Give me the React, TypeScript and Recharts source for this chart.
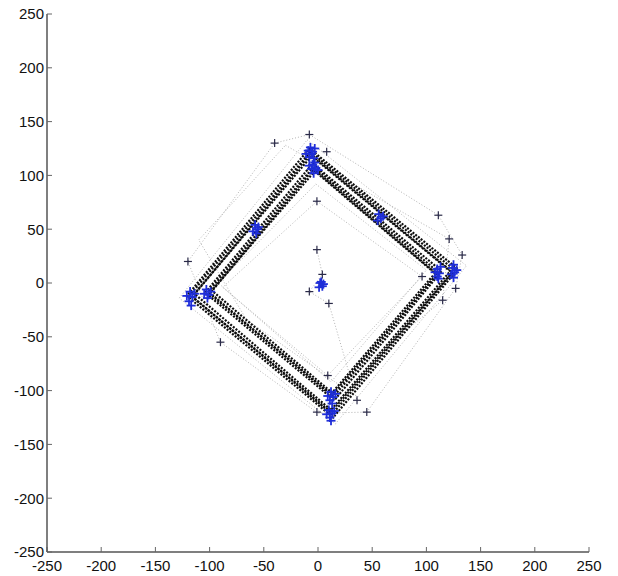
import React from "react";
import { ScatterChart, Scatter, XAxis, YAxis } from "recharts";

const AXIS_TICKS = [-250, -200, -150, -100, -50, 0, 50, 100, 150, 200, 250];

// main trajectories: two nested squares, a few runs each
const outerRunA = [
  { x: -7, y: 122 }, { x: 126, y: 12 }, { x: 13, y: -122 }, { x: -118, y: -11 }, { x: -7, y: 122 },
];
const outerRunB = [
  { x: -6, y: 118 }, { x: 122, y: 11 }, { x: 12, y: -118 }, { x: -114, y: -10 }, { x: -6, y: 118 },
];
const outerRunC = [
  { x: -8, y: 125 }, { x: 129, y: 13 }, { x: 14, y: -125 }, { x: -121, y: -12 }, { x: -8, y: 125 },
];
const outerRunD = [
  { x: -7, y: 120 }, { x: 124, y: 10 }, { x: 12, y: -120 }, { x: -116, y: -13 }, { x: -7, y: 120 },
];
const innerRunA = [
  { x: -4, y: 108 }, { x: 111, y: 10 }, { x: 14, y: -106 }, { x: -101, y: -8 }, { x: -4, y: 108 },
];
const innerRunB = [
  { x: -3, y: 104 }, { x: 108, y: 9 }, { x: 13, y: -102 }, { x: -98, y: -7 }, { x: -3, y: 104 },
];
const innerRunC = [
  { x: -5, y: 111 }, { x: 114, y: 11 }, { x: 15, y: -109 }, { x: -104, y: -9 }, { x: -5, y: 111 },
];
const innerRunD = [
  { x: -4, y: 106 }, { x: 110, y: 8 }, { x: 13, y: -104 }, { x: -100, y: -10 }, { x: -4, y: 106 },
];

// faint stray runs
const strayRunA = [
  { x: -40, y: 130 }, { x: -8, y: 138 }, { x: 111, y: 63 }, { x: 133, y: 26 }, { x: 127, y: -5 },
  { x: 45, y: -120 }, { x: 0, y: -121 }, { x: -90, y: -55 }, { x: -120, y: 20 }, { x: -40, y: 130 },
];
const strayRunB = [
  { x: -1, y: 76 }, { x: 96, y: 6 }, { x: 9, y: -86 }, { x: -88, y: -4 }, { x: -1, y: 76 },
];
const strayRunC = [
  { x: -1, y: 31 }, { x: 4, y: 8 }, { x: -8, y: -8 }, { x: 10, y: -19 }, { x: 36, y: -109 },
];
const strayRunD = [
  { x: -30, y: 128 }, { x: 121, y: 41 }, { x: 115, y: -16 }, { x: 20, y: -95 }, { x: -66, y: -34 },
  { x: -110, y: 40 }, { x: -30, y: 128 },
];
const strayRunE = [
  { x: -10, y: 133 }, { x: 137, y: 16 }, { x: 16, y: -131 }, { x: -128, y: -14 }, { x: -10, y: 133 },
];
const strayRunF = [
  { x: -2, y: 92 }, { x: 100, y: 12 }, { x: 12, y: -92 }, { x: -92, y: 0 }, { x: -2, y: 92 },
];

const outlierMarks = [
  { x: -8, y: 138 }, { x: -40, y: 130 }, { x: 8, y: 122 }, { x: -1, y: 76 },
  { x: 111, y: 63 }, { x: 121, y: 41 }, { x: 133, y: 26 }, { x: 127, y: -5 },
  { x: 115, y: -16 }, { x: 96, y: 6 }, { x: -1, y: 31 }, { x: 4, y: 8 },
  { x: -8, y: -8 }, { x: 10, y: -19 }, { x: -120, y: 20 }, { x: -90, y: -55 },
  { x: 9, y: -86 }, { x: 36, y: -109 }, { x: 45, y: -120 }, { x: -1, y: -120 },
];

const cornerMarks = [
  // top
  { x: -9, y: 123 }, { x: -6, y: 120 }, { x: -3, y: 125 }, { x: -8, y: 117 }, { x: -5, y: 122 }, { x: -11, y: 120 },
  { x: -7, y: 126 }, { x: -4, y: 116 },
  { x: -5, y: 110 }, { x: -2, y: 107 }, { x: -6, y: 106 }, { x: -3, y: 112 }, { x: 0, y: 105 }, { x: -4, y: 102 },
  { x: -8, y: 109 },
  // right
  { x: 124, y: 14 }, { x: 126, y: 10 }, { x: 125, y: 5 }, { x: 128, y: 12 }, { x: 123, y: 8 }, { x: 125, y: 17 },
  { x: 110, y: 13 }, { x: 112, y: 9 }, { x: 111, y: 4 }, { x: 108, y: 10 }, { x: 113, y: 15 }, { x: 110, y: 6 },
  // bottom
  { x: 10, y: -118 }, { x: 13, y: -121 }, { x: 11, y: -125 }, { x: 15, y: -119 }, { x: 8, y: -122 }, { x: 12, y: -128 },
  { x: 12, y: -101 }, { x: 14, y: -106 }, { x: 11, y: -109 }, { x: 16, y: -103 }, { x: 13, y: -112 }, { x: 9, y: -105 },
  // left
  { x: -118, y: -8 }, { x: -116, y: -13 }, { x: -119, y: -17 }, { x: -117, y: -21 }, { x: -114, y: -10 }, { x: -121, y: -12 },
  { x: -103, y: -6 }, { x: -101, y: -11 }, { x: -99, y: -8 }, { x: -105, y: -10 }, { x: -102, y: -14 },
  // edges and centre
  { x: -58, y: 54 }, { x: -56, y: 50 }, { x: -60, y: 48 }, { x: -55, y: 52 }, { x: -57, y: 46 },
  { x: 56, y: 64 }, { x: 58, y: 60 }, { x: 55, y: 58 }, { x: 60, y: 62 },
  { x: 2, y: 0 }, { x: 4, y: -3 }, { x: 3, y: 1 }, { x: 1, y: -4 }, { x: 5, y: -1 },
];

const mainTracks = [outerRunA, outerRunB, outerRunC, outerRunD, innerRunA, innerRunB, innerRunC, innerRunD];
const strayTracks = [strayRunA, strayRunB, strayRunC, strayRunD, strayRunE, strayRunF];

const noDot = () => <g />;

const plus = (color: string, size: number, width: number) => (props: any) => {
  const { cx, cy } = props;
  return (
    <g stroke={color} strokeWidth={width}>
      <line x1={cx - size} x2={cx + size} y1={cy} y2={cy} />
      <line x1={cx} x2={cx} y1={cy - size} y2={cy + size} />
    </g>
  );
};

const tickStyle = { fill: "#111", fontSize: 15, fontFamily: "Liberation Sans, Arial, sans-serif" };

export default function App() {
  return (
    <div style={{ position: "absolute", left: 0, top: 0, background: "#fff" }}>
      <ScatterChart width={618} height={576} margin={{ top: 14, right: 29, bottom: 0, left: 0 }}>
        <XAxis
          type="number"
          dataKey="x"
          domain={[-250, 250]}
          ticks={AXIS_TICKS}
          interval={0}
          allowDataOverflow
          height={24}
          tickSize={-5}
          tickMargin={13}
          tick={tickStyle}
          axisLine={{ stroke: "#555", strokeWidth: 1.5 }}
          tickLine={{ stroke: "#666" }}
        />
        <YAxis
          type="number"
          dataKey="y"
          domain={[-250, 250]}
          ticks={AXIS_TICKS}
          interval={0}
          allowDataOverflow
          width={47}
          tickSize={-5}
          tickMargin={8}
          tick={tickStyle}
          axisLine={{ stroke: "#555", strokeWidth: 1.5 }}
          tickLine={{ stroke: "#666" }}
        />
        {strayTracks.map((run, i) => (
          <Scatter
            key={`stray-${i}`}
            data={run}
            line={{ stroke: "#aaa", strokeWidth: 0.9, strokeDasharray: "1 2" }}
            lineType="joint"
            shape={noDot}
            isAnimationActive={false}
          />
        ))}
        {mainTracks.map((run, i) => (
          <Scatter
            key={`main-${i}`}
            data={run}
            line={{ stroke: "#0d0d0d", strokeWidth: 2.2, strokeDasharray: "2 1.5" }}
            lineType="joint"
            shape={noDot}
            isAnimationActive={false}
          />
        ))}
        <Scatter data={outlierMarks} shape={plus("#2a2a48", 4, 1.2)} isAnimationActive={false} />
        <Scatter data={cornerMarks} shape={plus("#1f2ed8", 4.5, 1.8)} isAnimationActive={false} />
      </ScatterChart>
    </div>
  );
}
